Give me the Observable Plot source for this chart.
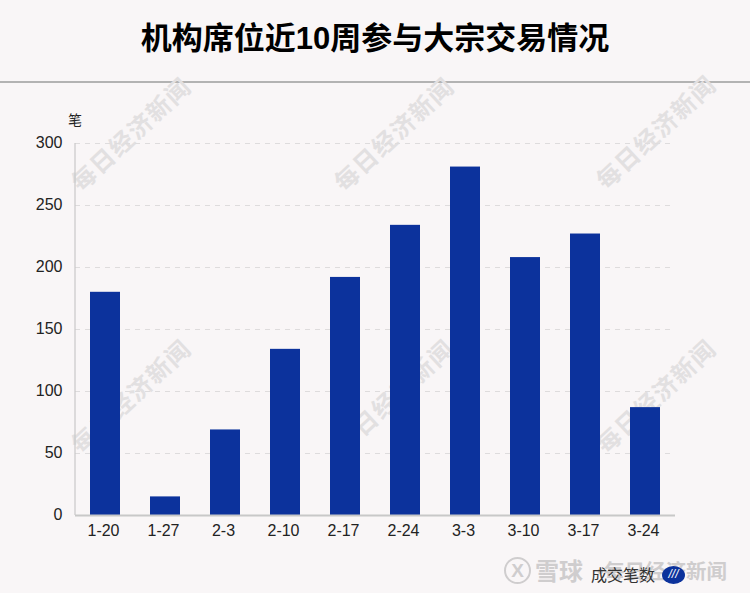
<!DOCTYPE html>
<html><head><meta charset="utf-8">
<script src="https://cdn.jsdelivr.net/npm/d3@7"></script>
<script src="https://cdn.jsdelivr.net/npm/@observablehq/plot@0.6"></script>
<style>
html,body{margin:0;padding:0;background:#f9f6f7;width:750px;height:593px;overflow:hidden}
body{position:relative;font-family:"Liberation Sans","Noto Sans CJK SC",sans-serif}
#title{height:81px;text-align:center;font:bold 31px/78px "Liberation Sans","Noto Sans CJK SC",sans-serif;color:#000;border-bottom:2px solid #b3b3b3;box-sizing:content-box}
#chart{position:absolute;left:0;top:82px;z-index:2}
#chart svg{background:transparent;display:block}
.wm{position:absolute;z-index:1;font:bold 24px "Noto Sans CJK SC",sans-serif;color:#e2e0e1;transform:translate(-50%,-50%) rotate(-43deg);white-space:nowrap;letter-spacing:1.5px}
.unit{position:absolute;z-index:3;left:68px;top:109px;font:14px "Noto Sans CJK SC",sans-serif;color:#222}
.brand{position:absolute;z-index:3;top:556px;font:bold 20.5px/28px "Noto Sans CJK SC",sans-serif;color:#cfcdce;white-space:nowrap}
.brand.big{font-size:24px}
.logo{position:absolute;z-index:3;left:504px;top:557px;width:23px;height:23px;border:2px solid #cfcdce;border-radius:50%;color:#cfcdce;font:bold 19px/23px "Liberation Sans",sans-serif;text-align:center}
.legend{position:absolute;z-index:4;left:591px;top:564px;font:16px/20px "Noto Sans CJK SC",sans-serif;color:#333;white-space:nowrap}
.swatch{position:absolute;z-index:4;left:662px;top:566px;width:23px;height:18px;border-radius:50%;background:#0c329c;color:#fff;font:italic 12px/17px "Liberation Sans",sans-serif;text-align:center}
</style></head><body>
<div id="title"></div>
<div id="chart"></div>
<script>
const titleText = "机构席位近10周参与大宗交易情况";
const unitLabel = "笔";
const legendLabel = "成交笔数";
const watermarkText = "每日经济新闻";
const weeks = ["1-20","1-27","2-3","2-10","2-17","2-24","3-3","3-10","3-17","3-24"];
const counts = [180,15,69,134,192,234,281,208,227,87];
const yTicks = [0,50,100,150,200,250,300];
const rows = weeks.map((week,i)=>({week,count:counts[i]}));

document.getElementById("title").textContent = titleText;

const plot = Plot.plot({
  width:750, height:511,
  marginTop:61, marginBottom:78, marginLeft:75, marginRight:75,
  style:{background:"transparent",fontFamily:'"Liberation Sans",sans-serif',color:"#222"},
  x:{domain:weeks,paddingInner:0.5,paddingOuter:0.25,label:null,tickSize:0},
  y:{domain:[0,300],label:null,ticks:yTicks,tickSize:0},
  marks:[
    Plot.gridY(yTicks.filter(t=>t>0),{stroke:"#dedcdd",strokeOpacity:1,strokeDasharray:"5,5",strokeWidth:1}),
    Plot.axisY({ticks:yTicks,tickSize:0,tickPadding:13,fontSize:16,label:null,color:"#222",dy:-1}),
    Plot.axisX({tickSize:0,tickPadding:9,fontSize:16,label:null,color:"#222",dx:-2}),
    Plot.barY(rows,{x:"week",y:"count",fill:"#0c329c"}),
    Plot.ruleY([0],{stroke:"#c8c8c8",strokeWidth:2})
  ]
});
document.getElementById("chart").appendChild(plot);

const y = plot.scale("y");
const ns="http://www.w3.org/2000/svg";
const axisLine=document.createElementNS(ns,"line");
axisLine.setAttribute("x1",75);axisLine.setAttribute("x2",75);
axisLine.setAttribute("y1",y.apply(300));axisLine.setAttribute("y2",y.apply(0));
axisLine.setAttribute("stroke","#c8c8c8");axisLine.setAttribute("stroke-width",1.2);
plot.appendChild(axisLine);

for (const [cx,cy] of [[130,133],[393,133],[655,131],[130,395],[393,395],[655,395]]) {
  const d=document.createElement("div");d.className="wm";d.textContent=watermarkText;
  d.style.left=cx+"px";d.style.top=cy+"px";document.body.appendChild(d);
}
function add(cls,text,left){
  const d=document.createElement("div");d.className=cls;d.textContent=text;
  if(left!=null)d.style.left=left+"px";document.body.appendChild(d);
}
add("unit",unitLabel);
add("logo","X");
add("brand big","雪球",535);
add("brand","·",590);
add("brand",watermarkText,604);
add("legend",legendLabel);
add("swatch","///");
</script>
</body></html>
